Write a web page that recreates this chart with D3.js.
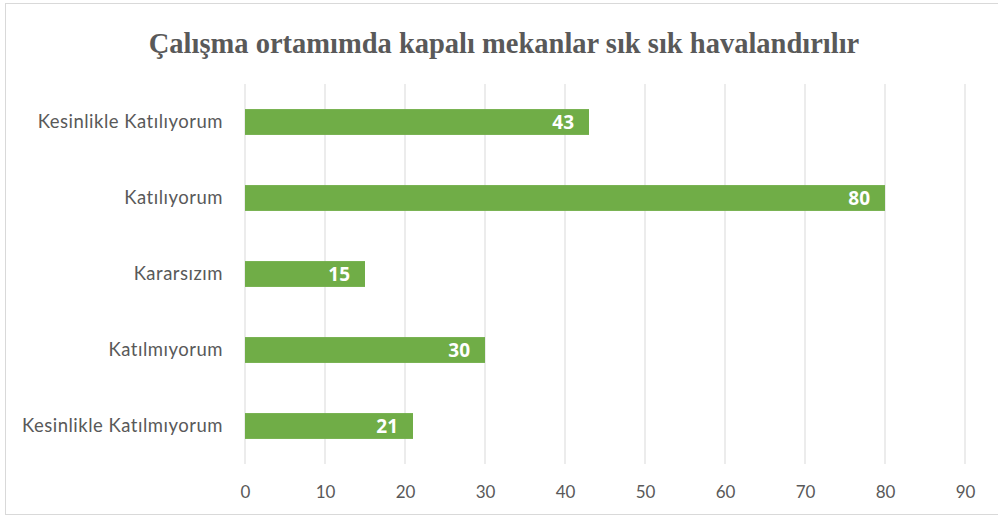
<!DOCTYPE html>
<html><head><meta charset="utf-8">
<script src="https://cdn.jsdelivr.net/npm/d3@7"></script>
<style>body{margin:0;background:#fff}svg{display:block}</style>
</head><body>
<svg id="c" width="998" height="517"></svg>
<script>
const categories = ["Kesinlikle Katılıyorum","Katılıyorum","Kararsızım","Katılmıyorum","Kesinlikle Katılmıyorum"];
const values = [43,80,15,30,21];
const ticks = [0,10,20,30,40,50,60,70,80,90];
const title = "Çalışma ortamımda kapalı mekanlar sık sık havalandırılır";

const svg = d3.select("#c");
svg.append("rect").attr("x",5.5).attr("y",3.5).attr("width",995).attr("height",511)
  .attr("fill","#fff").attr("stroke","#d9d9d9");
const m = {l:245,r:33,t:84,b:53};
const W=998,H=517;
const x = d3.scaleLinear().domain([0,90]).range([m.l, W-m.r]);
const y = d3.scaleBand().domain(categories).range([m.t, H-m.b]).paddingInner(0.66).paddingOuter(0.33);

svg.append("g").selectAll("line").data(ticks).join("line")
  .attr("x1",d=>x(d)).attr("x2",d=>x(d)).attr("y1",m.t).attr("y2",H-m.b)
  .attr("stroke","#d9d9d9").attr("stroke-width",1);

svg.append("g").selectAll("rect").data(values).join("rect")
  .attr("x",x(0)).attr("y",(d,i)=>y(categories[i])).attr("width",d=>x(d)-x(0)).attr("height",y.bandwidth())
  .attr("fill","#70AD47");

svg.append("g").selectAll("text").data(values).join("text")
  .attr("x",d=>x(d)-15).attr("y",(d,i)=>y(categories[i])+y.bandwidth()/2)
  .attr("dy","0.36em").attr("text-anchor","end")
  .attr("font-family","Open Sans, sans-serif").attr("font-weight","bold").attr("font-size",19)
  .attr("fill","#fff").text(d=>d);

const ax = d3.axisBottom(x).tickValues(ticks).tickSize(0).tickPadding(22);
const gx = svg.append("g").attr("transform",`translate(0,${H-m.b})`).call(ax);
gx.select(".domain").remove();
gx.selectAll("text").attr("font-family","Lato, sans-serif").attr("font-size",17).attr("fill","#595959");

const ay = d3.axisLeft(y).tickSize(0).tickPadding(22);
const gy = svg.append("g").attr("transform",`translate(${m.l},0)`).call(ay);
gy.select(".domain").remove();
gy.selectAll("text").attr("font-family","Lato, sans-serif").attr("font-size",18.5)
  .attr("letter-spacing",0.5).attr("fill","#595959");

svg.append("text").attr("x",504).attr("y",53).attr("text-anchor","middle")
  .attr("font-family","Liberation Serif, serif").attr("font-weight","bold").attr("font-size",28.5)
  .attr("fill","#595959").text(title);
</script>
</body></html>
